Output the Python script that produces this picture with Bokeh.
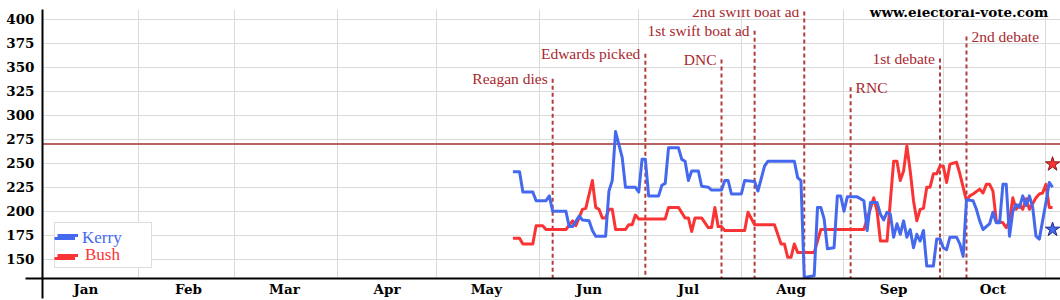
from bokeh.plotting import figure
from bokeh.models import FixedTicker, Label, Legend, LegendItem, Span
from bokeh.embed import file_html
from bokeh.resources import INLINE

# ---- data (x = day of year 2004, 0 = Jan 1) ----
month_names = ["Jan", "Feb", "Mar", "Apr", "May", "Jun", "Jul", "Aug", "Sep", "Oct"]
month_starts = [0, 31, 60, 91, 121, 152, 182, 213, 244, 274, 305]
y_ticks = [150, 175, 200, 225, 250, 275, 300, 325, 350, 375, 400]

kerry_day = [144, 146, 147, 150, 151, 154, 155, 156, 160, 161,
             162, 164, 165, 167, 168, 169, 172, 173, 174, 175,
             177, 178, 181, 182, 183, 184, 185, 188, 189, 190,
             191, 194, 195, 196, 197, 198, 200, 201, 203, 204,
             207, 208, 209, 210, 213, 214, 217, 218, 220, 221,
             229, 230, 231, 232, 235, 236, 237, 238, 239, 241,
             242, 243, 244, 245, 248, 250, 251, 252, 254, 255,
             256, 257, 258, 259, 260, 261, 262, 263, 264, 265,
             266, 267, 268, 269, 271, 272, 273, 274, 275, 276,
             278, 279, 280, 281, 283, 284, 285, 286, 288, 289,
             290, 291, 292, 293, 294, 295, 296, 297, 298, 299,
             300, 301, 302, 303, 304, 305, 306, 307]
kerry_ev = [241, 241, 220, 220, 211, 211, 216, 200, 200, 184,
            184, 195, 191, 190, 180, 174, 174, 221, 232, 283,
            256, 225, 225, 220, 254, 254, 216, 216, 227, 229,
            266, 266, 254, 252, 232, 242, 242, 226, 225, 222,
            222, 232, 232, 218, 218, 232, 231, 221, 247, 252,
            252, 235, 232, 131, 133, 204, 204, 192, 161, 162,
            216, 216, 200, 215, 215, 211, 180, 209, 209, 197,
            191, 199, 197, 173, 187, 176, 190, 173, 181, 162,
            176, 169, 180, 143, 143, 171, 171, 162, 160, 173,
            173, 166, 153, 212, 211, 202, 190, 181, 187, 199,
            188, 188, 228, 228, 174, 200, 207, 204, 216, 206,
            216, 204, 174, 171, 190, 209, 230, 225]

bush_day = [144, 146, 147, 150, 151, 153, 154, 160, 162, 163,
            165, 166, 168, 169, 170, 171, 172, 173, 174, 175,
            178, 179, 180, 181, 182, 190, 191, 194, 196, 197,
            198, 199, 201, 203, 204, 205, 206, 207, 208, 214,
            215, 217, 223, 225, 226, 227, 228, 229, 230, 235,
            237, 250, 253, 254, 255, 257, 259, 260, 261, 262,
            263, 264, 265, 266, 267, 268, 269, 270, 271, 272,
            273, 274, 275, 276, 278, 279, 281, 282, 283, 285,
            286, 287, 288, 289, 290, 292, 293, 294, 295, 296,
            297, 298, 299, 300, 302, 303, 304, 305, 306, 307]
bush_ev = [172, 172, 166, 166, 185, 185, 181, 181, 190, 185,
           202, 203, 232, 204, 202, 193, 193, 202, 202, 181,
           181, 186, 186, 196, 192, 192, 204, 204, 193, 193,
           179, 193, 193, 183, 183, 204, 184, 184, 180, 180,
           199, 186, 186, 166, 166, 152, 152, 166, 157, 157,
           181, 181, 214, 200, 169, 169, 252, 252, 232, 242,
           268, 242, 211, 190, 202, 203, 225, 225, 239, 239,
           247, 247, 230, 249, 251, 239, 211, 216, 218, 223,
           219, 228, 228, 221, 190, 188, 183, 190, 214, 202,
           207, 202, 213, 202, 214, 218, 219, 228, 204, 204]

star_day = [307, 307]
star_ev = [249, 181]

win_line = 270

event_day = [156, 184, 207, 217, 232, 246, 273, 281]
event_level = [338, 364, 358, 388, 408, 329, 359, 382]
event_label = ["Reagan dies", "Edwards picked", "DNC", "1st swift boat ad",
               "2nd swift boat ad", "RNC", "1st debate", "2nd debate"]
event_side = ["left", "left", "left", "left", "left", "right", "left", "right"]

credit = "www.electoral-vote.com"

# ---- styling ----
KERRY = "#4569ee"
BUSH = "#fa3434"
EVENT = "#a8282e"
X0, X1 = 1.9, 309.4
Y0, Y1 = 130, 410

p = figure(width=1060, height=300, x_range=(X0, X1), y_range=(Y0, Y1),
           output_backend="svg", toolbar_location=None,
           min_border_left=42, min_border_right=0, min_border_top=9,
           min_border_bottom=22)
p.outline_line_color = None
p.background_fill_color = "white"
p.border_fill_color = "white"

month_mids = [s + 15 for s in month_starts[:len(month_names)]]
p.xaxis.ticker = FixedTicker(ticks=month_mids, minor_ticks=[X0 + 0.05])
p.xaxis.major_label_overrides = {m: n for m, n in zip(month_mids, month_names)}
p.yaxis.ticker = FixedTicker(ticks=y_ticks, minor_ticks=[Y0 + 0.05])
p.xgrid.ticker = FixedTicker(ticks=month_starts[1:])

for ax in (p.xaxis[0], p.yaxis[0]):
    ax.axis_line_width = 2
    ax.axis_line_color = "black"
    ax.major_tick_in = 0
    ax.major_tick_out = 0
    ax.minor_tick_in = 0
    ax.minor_tick_line_width = 2
    ax.minor_tick_line_color = "black"
    ax.major_label_text_font = "DejaVu Serif"
    ax.major_label_text_font_style = "bold"
    ax.major_label_text_font_size = "13.5px"
    ax.major_label_text_color = "black"
p.xaxis.minor_tick_out = 20
p.yaxis.minor_tick_out = 17
p.xaxis.major_label_standoff = -18
p.yaxis.major_label_standoff = -9

p.grid.grid_line_color = "#dadada"
p.grid.grid_line_width = 1

p.add_layout(Span(location=win_line, dimension="width", line_color="#b86464",
                  line_width=2, level="underlay"))

# event lines
p.segment(x0=event_day, y0=event_level, x1=event_day, y1=[Y0] * len(event_day),
          line_color="#b03c3c", line_width=2, line_dash="4 3")

for d, lv, t, side in zip(event_day, event_level, event_label, event_side):
    left = side == "left"
    p.add_layout(Label(x=d, y=lv, text=t, x_offset=-5 if left else 5,
                       text_align="right" if left else "left",
                       text_baseline="middle", text_font="Liberation Serif",
                       text_font_size="15.5px", text_color=EVENT))

r_b = p.line(bush_day, bush_ev, line_color=BUSH, line_width=3, line_join="round")
r_k = p.line(kerry_day, kerry_ev, line_color=KERRY, line_width=3, line_join="round")

p.scatter(x=star_day, y=star_ev, marker="star", size=15,
          fill_color=[BUSH, KERRY], line_color=["#8a1a1a", "#1a2a8a"], line_width=1)

p.add_layout(Label(x=305.7, y=407.8, text=credit, text_align="right",
                   text_baseline="middle", text_font="DejaVu Serif",
                   text_font_style="bold", text_font_size="13.5px",
                   text_color="black"))

common = dict(location=(12, 10), padding=2, spacing=-2, margin=0,
              glyph_width=21, glyph_height=20, label_height=20,
              label_width=64, label_standoff=7,
              label_text_font="Liberation Serif", label_text_font_size="17px")
leg_a = Legend(items=[LegendItem(label=" ", renderers=[r_k]),
                      LegendItem(label="Bush", renderers=[r_b])],
               label_text_color=BUSH, border_line_color="#bbbbbb",
               border_line_width=1, background_fill_color="white",
               background_fill_alpha=1.0, **common)
leg_b = Legend(items=[LegendItem(label="Kerry", renderers=[r_k]),
                      LegendItem(label=" ", renderers=[r_b])],
               label_text_color=KERRY, border_line_color=None,
               background_fill_alpha=0.0, **common)
p.add_layout(leg_a)
p.add_layout(leg_b)

open("out.html", "w").write(file_html(p, INLINE))
